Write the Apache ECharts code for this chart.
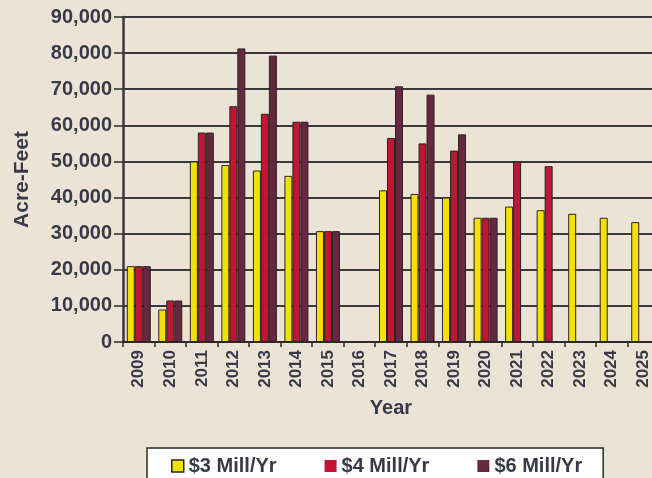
<!DOCTYPE html>
<html>
<head>
<meta charset="utf-8">
<script src="https://cdn.jsdelivr.net/npm/echarts@6/dist/echarts.min.js"></script>
<style>
  html, body { margin: 0; padding: 0; background: #ebe4d6; }
  #chart { width: 652px; height: 478px; }
</style>
</head>
<body>
<div id="chart"></div>
<script>
const years = ['2009', '2010', '2011', '2012', '2013', '2014', '2015', '2016', '2017',
  '2018', '2019', '2020', '2021', '2022', '2023', '2024', '2025'];
const mill3 = [21000, 9000, 50000, 49000, 47500, 46000, 30700, null, 42000,
  41000, 40000, 34400, 37500, 36500, 35500, 34400, 33200];
const mill4 = [21000, 11500, 58000, 65300, 63200, 61000, 30700, null, 56500,
  55000, 53000, 34400, 50000, 48700, null, null, null];
const mill6 = [21000, 11500, 58000, 81300, 79300, 61000, 30700, null, 70800,
  68500, 57500, 34400, null, null, null, null, null];

const textColor = '#383a48';
const font = 'Liberation Sans, Arial, sans-serif';

const chart = echarts.init(document.getElementById('chart'));

const barStyle = (color) => ({
  color: color,
  borderColor: '#2a2226',
  borderWidth: 1
});

chart.setOption({
  backgroundColor: '#ebe4d6',
  animation: false,
  // plot runs past the right edge of the picture, as in the original
  grid: { left: 123, width: 536, top: 17, height: 325, outerBoundsMode: 'none' },
  legend: {
    left: 147,
    top: 448,
    backgroundColor: '#ffffff',
    borderColor: '#2a2a2a',
    borderWidth: 1.5,
    padding: [8, 21, 14, 24],
    itemWidth: 12,
    itemHeight: 12,
    itemGap: 48,
    icon: 'rect',
    textStyle: { fontFamily: font, fontWeight: 'bold', fontSize: 20, color: textColor },
    data: [
      { name: '$3 Mill/Yr', itemStyle: { color: '#f5e100', borderColor: '#2a2226', borderWidth: 1.5 } },
      { name: '$4 Mill/Yr', itemStyle: { color: '#bf1733', borderWidth: 0 } },
      { name: '$6 Mill/Yr', itemStyle: { color: '#66283f', borderWidth: 0 } }
    ]
  },
  xAxis: {
    type: 'category',
    data: years,
    name: 'Year',
    nameLocation: 'middle',
    nameGap: 56,
    nameTextStyle: { fontFamily: font, fontWeight: 'bold', fontSize: 20, color: textColor },
    axisLine: { lineStyle: { color: '#2a2a2a', width: 2 } },
    axisTick: { show: true, length: 5, lineStyle: { color: '#2a2a2a', width: 1.5 } },
    axisLabel: {
      rotate: 90,
      margin: 8,
      fontFamily: font,
      fontWeight: 'bold',
      fontSize: 17,
      color: textColor
    }
  },
  yAxis: {
    type: 'value',
    min: 0,
    max: 90000,
    interval: 10000,
    name: 'Acre-Feet',
    nameLocation: 'middle',
    nameGap: 90,
    nameRotate: 90,
    nameTextStyle: { fontFamily: font, fontWeight: 'bold', fontSize: 21, color: textColor },
    axisLine: { show: true, lineStyle: { color: '#3a3548', width: 2.5 } },
    axisTick: { show: true, length: 9, lineStyle: { color: '#2a2a2a', width: 1.5 } },
    axisLabel: {
      margin: 11,
      fontFamily: font,
      fontWeight: 'bold',
      fontSize: 20,
      color: textColor,
      formatter: (v) => v.toLocaleString('en-US')
    },
    splitLine: { lineStyle: { color: '#3a3a3a', width: 2 } }
  },
  series: [
    {
      name: '$3 Mill/Yr', type: 'bar', data: mill3,
      barWidth: 8, barGap: '0%',
      itemStyle: barStyle('#f5e100')
    },
    {
      name: '$4 Mill/Yr', type: 'bar', data: mill4,
      barWidth: 8, barGap: '0%',
      itemStyle: barStyle('#bf1733')
    },
    {
      name: '$6 Mill/Yr', type: 'bar', data: mill6,
      barWidth: 8, barGap: '0%',
      itemStyle: barStyle('#66283f')
    }
  ]
});
</script>
</body>
</html>
